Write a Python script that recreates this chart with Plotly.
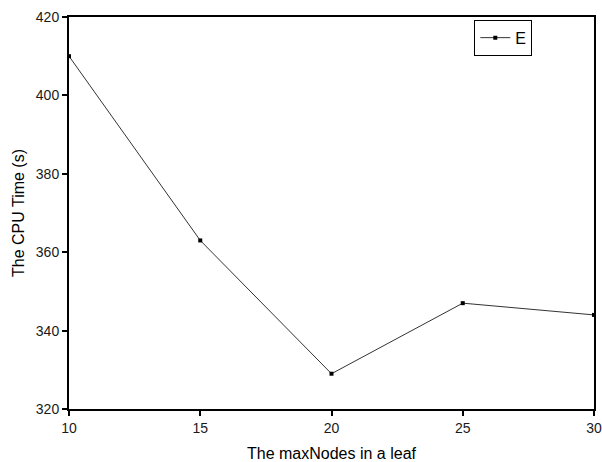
import plotly.graph_objects as go

x_vals = [10, 15, 20, 25, 30]
cpu_time = [410, 363, 329, 347, 344]
series_name = "E"

fig = go.Figure()
fig.add_trace(go.Scatter(
    x=x_vals, y=cpu_time, name=series_name, mode="lines+markers",
    line=dict(color="#333333", width=1),
    marker=dict(symbol="square", size=4, color="black"),
    cliponaxis=False,
))

axis_common = dict(
    showline=True, linecolor="black", linewidth=2, mirror=True,
    ticks="outside", ticklen=5, tickwidth=2, tickcolor="black",
    showgrid=False, zeroline=False, automargin=False,
    tickfont=dict(family="Liberation Sans, Arial", size=14, color="#1a1a1a"),
)

fig.update_layout(
    width=602, height=462,
    margin=dict(l=69, r=8, t=17, b=53),
    plot_bgcolor="white", paper_bgcolor="white",
    xaxis=dict(range=[10, 30], dtick=5, tick0=10,
               title=dict(text="The maxNodes in a leaf", standoff=14,
                          font=dict(family="Liberation Sans, Arial", size=16, color="black")),
               **axis_common),
    yaxis=dict(range=[320, 420], dtick=20, tick0=320,
               title=dict(text="The CPU Time (s)", standoff=7,
                          font=dict(family="Liberation Sans, Arial", size=16, color="black")),
               **axis_common),
    showlegend=True,
    legend=dict(x=0.772, y=0.993, xanchor="left", yanchor="top",
                bordercolor="black", borderwidth=1, bgcolor="white",
                font=dict(family="Liberation Sans, Arial", size=16, color="black"),
                itemwidth=30, tracegroupgap=0),
)

fig.write_html("out.html")
